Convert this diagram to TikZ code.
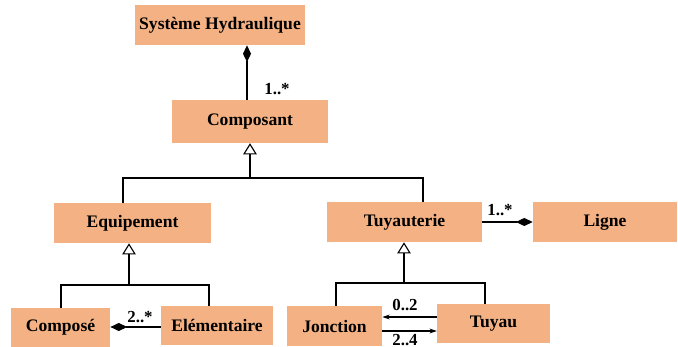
\documentclass[tikz,border=0pt]{standalone}
\usepackage{fontspec}
\setmainfont{Liberation Serif}
\usetikzlibrary{arrows.meta, positioning}
\definecolor{boxfill}{HTML}{F4B183}
\tikzset{
    classe/.style = {fill = boxfill, inner sep = 0pt, font = \bfseries\fontsize{12.5}{14}\selectfont},
    mult/.style = {font = \bfseries\fontsize{12}{13}\selectfont, inner sep = 1pt},
    herite/.style = {draw, line width = 0.8pt, -{Triangle[open, length = 0.28cm, width = 0.34cm]}},
    compo/.style = {draw, line width = 0.8pt, -{Diamond[fill = black, length = 0.42cm, width = 0.2cm]}},
    assoc/.style = {draw, line width = 0.8pt, -{Stealth[length = 0.18cm, width = 0.12cm]}},
    lien/.style = {draw, line width = 0.8pt},
}

\begin{document}
\begin{tikzpicture}[x = 0.025cm, y = -0.025cm]
            \useasboundingbox (0, 0) rectangle (678, 347);

            \node[classe, minimum width = 4.25cm, minimum height = 1cm] (sh) at (220, 25) {Système Hydraulique};
            \node[classe, minimum width = 3.9cm, minimum height = 1.07cm] (comp) at (250, 121.5) {Composant};

            \node[classe, minimum width = 3.92cm, minimum height = 1cm] (equip) at (132.5, 223) {Equipement};
            \node[classe, minimum width = 3.88cm, minimum height = 1cm] (tuyaut) at (404.5, 222) {Tuyauterie};
            \node[classe, minimum width = 3.6cm, minimum height = 1cm] (ligne) at (605, 222) {Ligne};

            \node[classe, minimum width = 2.48cm, minimum height = 0.98cm] (compose) at (60.5, 327.5) {Composé};
            \node[classe, minimum width = 2.8cm, minimum height = 0.98cm] (elem) at (217, 325.5) {Elémentaire};
            \node[classe, minimum width = 2.38cm, minimum height = 1cm] (jonc) at (334.5, 326) {Jonction};
            \node[classe, minimum width = 2.82cm, minimum height = 0.98cm] (tuyau) at (493.5, 323.5) {Tuyau};

            \coordinate (b1) at (250, 178);
            \coordinate (b2) at (129, 285);
            \coordinate (b3) at (404, 283);

            % composition
            \draw[compo] (comp.north -| 247, 0) -- (sh.south -| 247, 0);
            \node[mult] at (277, 89) {1..*};
            \draw[compo] (tuyaut.east) -- (ligne.west);
            \node[mult] at (500, 210) {1..*};
            \draw[compo] (elem.west |- 0, 327) -- (compose.east |- 0, 327);
            \node[mult] at (140, 317) {2..*};

            % heritage
            \draw[herite] (b1) -- (comp.south -| b1);
            \draw[lien] (equip.north -| 123, 0) |- (b1) -| (tuyaut.north -| 423, 0);
            \draw[herite] (b2) -- (equip.south -| b2);
            \draw[lien] (compose.north -| 61, 0) |- (b2) -| (elem.north -| 209, 0);
            \draw[herite] (b3) -- (tuyaut.south -| b3);
            \draw[lien] (jonc.north -| 336, 0) |- (b3) -| (tuyau.north -| 485, 0);

            % associations
            \draw[assoc] (tuyau.west |- 0, 317) -- (jonc.east |- 0, 317);
            \node[mult] at (405, 305) {0..2};
            \draw[assoc] (jonc.east |- 0, 331) -- (tuyau.west |- 0, 331);
            \node[mult] at (405, 340) {2..4};
\end{tikzpicture}
\end{document}
